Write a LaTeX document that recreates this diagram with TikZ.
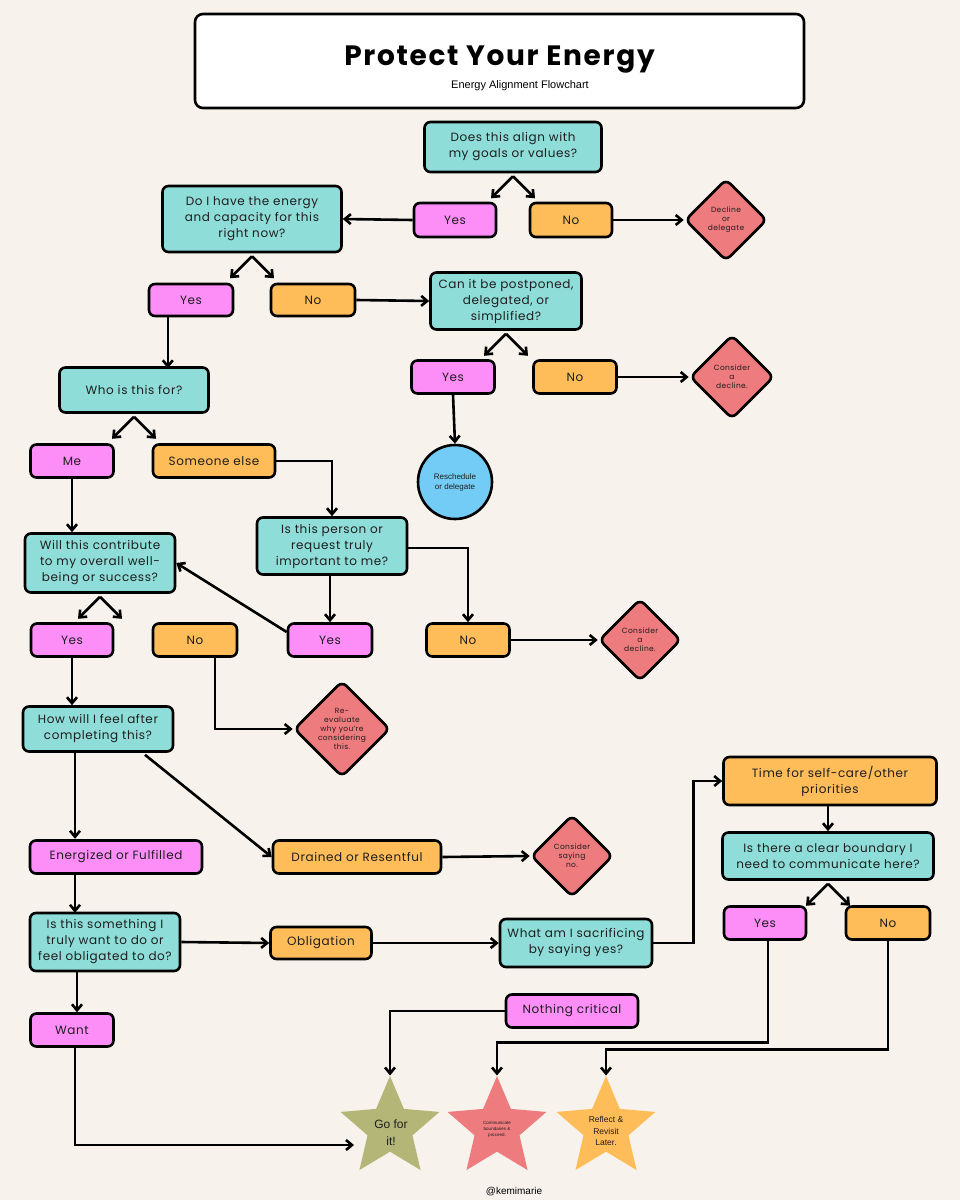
\documentclass[tikz,border=0pt]{standalone}
\usepackage{fontspec}
\setmainfont{Poppins}[LetterSpace=5]
\newfontfamily\titlef{Poppins}[LetterSpace=6]
\newfontfamily\arialf{Liberation Sans}
\usetikzlibrary{shapes.geometric,calc,arrows.meta}
\definecolor{bg}{HTML}{F7F3EC}
\definecolor{teal}{HTML}{8FDDD9}
\definecolor{pinkb}{HTML}{FD8EF8}
\definecolor{orangeb}{HTML}{FFBD59}
\definecolor{redd}{HTML}{EE7B7E}
\definecolor{blueb}{HTML}{72CCF5}
\definecolor{olive}{HTML}{B3B677}
\definecolor{ink}{HTML}{1E1E1E}
\tikzset{
 base/.style={draw=black,line width=2.6pt,rounded corners=6pt,align=center,text=ink,font=\fontsize{12}{16}\selectfont,inner sep=0pt},
 q/.style={base,fill=teal},
 yesb/.style={base,fill=pinkb},
 nob/.style={base,fill=orangeb},
 dia/.style={diamond,draw=black,line width=2.6pt,rounded corners=6pt,fill=redd,minimum size=#1,inner sep=0pt},
 dtext/.style={align=center,text=ink,font=\fontsize{7.5}{9}\selectfont},
 st/.style={star,star points=5,star point ratio=2.2,minimum size=104pt,inner sep=0pt,fill=#1},
 ar/.style={line width=2.6pt,-{Straight Barb[length=6pt,width=10pt,line width=2.6pt]}},
}
\begin{document}
\begin{tikzpicture}[x=1pt,y=-1pt]
\fill[bg] (0,0) rectangle (960,1200);
\useasboundingbox (0,0) rectangle (960,1200);
% title
\node[draw=black,line width=2.6pt,rounded corners=8pt,fill=white,minimum width=609pt,minimum height=94pt] (title) at (499.5,61) {};
\node[font=\titlef\fontsize{28}{32}\bfseries\selectfont,text=black] (tt) at (499.5,60) {Protect Your Energy};
\node[font=\arialf\fontsize{11}{13}\selectfont,text=black] (ts) at (520,86) {Energy Alignment Flowchart};
% nodes
\node[q,minimum width=177pt,minimum height=50pt] (q1) at (513,147) {Does this align with\\my goals or values?};
\node[yesb,minimum width=82pt,minimum height=34pt] (y1) at (455,220) {Yes};
\node[nob,minimum width=82pt,minimum height=34pt] (n1) at (571,220) {No};
\node[dia=82pt] (d1) at (726,220) {};
\node[dtext] at (d1) {Decline\\or\\delegate};
\node[q,minimum width=179pt,minimum height=66pt] (q2) at (252,219) {Do I have the energy\\and capacity for this\\right now?};
\node[yesb,minimum width=84pt,minimum height=32pt] (y2) at (191,300) {Yes};
\node[nob,minimum width=84pt,minimum height=32pt] (n2) at (313,300) {No};
\node[q,minimum width=151pt,minimum height=57pt] (q3) at (506,301) {Can it be postponed,\\delegated, or\\simplified?};
\node[yesb,minimum width=83pt,minimum height=33pt] (y3) at (453,377) {Yes};
\node[nob,minimum width=83pt,minimum height=33pt] (n3) at (575,377) {No};
\node[dia=84pt] (d2) at (732,377) {};
\node[dtext] at (d2) {Consider\\a\\decline.};
\node[circle,draw=black,line width=2.6pt,fill=blueb,minimum size=74pt,inner sep=0pt] (c1) at (455,482) {};
\node[dtext,font=\arialf\fontsize{8}{10}\selectfont] at (c1) {Reschedule\\or delegate};
\node[q,minimum width=149pt,minimum height=45pt] (q4) at (134,390) {Who is this for?};
\node[yesb,minimum width=83pt,minimum height=33pt] (me) at (72,461) {Me};
\node[nob,minimum width=122pt,minimum height=33pt] (se) at (214,461) {Someone else};
\node[q,minimum width=150pt,minimum height=59pt] (q5) at (100,563) {Will this contribute\\to my overall well-\\being or success?};
\node[q,minimum width=150pt,minimum height=57pt] (q6) at (332,546) {Is this person or\\request truly\\important to me?};
\node[yesb,minimum width=82pt,minimum height=33pt] (y4) at (72,640) {Yes};
\node[nob,minimum width=84pt,minimum height=33pt] (n4) at (195,640) {No};
\node[yesb,minimum width=84pt,minimum height=33pt] (y5) at (330,640) {Yes};
\node[nob,minimum width=83pt,minimum height=33pt] (n5) at (468,640) {No};
\node[dia=82pt] (d3) at (640,640) {};
\node[dtext] at (d3) {Consider\\a\\decline.};
\node[dia=96pt] (d4) at (342,729) {};
\node[dtext] at (d4) {Re-\\evaluate\\why you're\\considering\\this.};
\node[q,minimum width=150pt,minimum height=45pt] (q7) at (98,729) {How will I feel after\\completing this?};
\node[yesb,minimum width=172pt,minimum height=33pt] (ef) at (116,857) {Energized or Fulfilled};
\node[nob,minimum width=168pt,minimum height=33pt] (dr) at (357,857) {Drained or Resentful};
\node[dia=82pt] (d5) at (572,856) {};
\node[dtext] at (d5) {Consider\\saying\\no.};
\node[q,minimum width=150pt,minimum height=58pt] (q8) at (105,942) {Is this something I\\truly want to do or\\feel obligated to do?};
\node[nob,minimum width=101pt,minimum height=32pt] (ob) at (321,943) {Obligation};
\node[q,minimum width=152pt,minimum height=48pt] (q9) at (576,943) {What am I sacrificing\\by saying yes?};
\node[yesb,minimum width=132pt,minimum height=33pt] (nc) at (572,1011) {Nothing critical};
\node[yesb,minimum width=83pt,minimum height=33pt] (want) at (72,1030) {Want};
\node[nob,minimum width=213pt,minimum height=48pt] (tsc) at (830,781) {Time for self-care/other\\priorities};
\node[q,minimum width=211pt,minimum height=47pt] (q10) at (828,856) {Is there a clear boundary I\\need to communicate here?};
\node[yesb,minimum width=82pt,minimum height=33pt] (y6) at (765,923) {Yes};
\node[nob,minimum width=84pt,minimum height=33pt] (n6) at (888,923) {No};
% stars
\node[st=olive] (s1) at (390,1128) {};
\node[font=\arialf\fontsize{12}{17}\selectfont,align=center,text=ink] at (391,1133) {Go for\\it!};
\node[st=redd] (s2) at (497,1128) {};
\node[font=\arialf\fontsize{4.5}{6}\selectfont,align=center,text=ink] at (497,1129) {Communicate\\boundaries \&\\proceed.};
\node[st=orangeb] (s3) at (606,1128) {};
\node[font=\arialf\fontsize{8.5}{11.5}\selectfont,align=center,text=ink] at (606,1131) {Reflect \&\\Revisit\\Later.};
\node[font=\arialf\fontsize{10}{12}\selectfont,text=black] (km) at (514,1192) {@kemimarie};
\coordinate (s1in) at (354,1145);
% connectors
\foreach \n in {q1,q2,q3,q4,q5,q10}{
 \draw[ar] ($(\n.south)+(0,3)$) -- ++(-22,22);
 \draw[ar] ($(\n.south)+(0,3)$) -- ++(22,22);
}
\draw[ar] (y1.west) -- (q2.east);
\draw[ar] (n1.east) -- (d1.west);
\draw[ar] (n2.east) -- (q3.west);
\draw[ar] (n3.east) -- (d2.west);
\draw[ar] (y3.south) -- (c1.north);
\draw[ar] (y2.south -| q4.north east) ++(-42,0) -- ++(0,51);
\draw[ar] (me.south) -- (q5.north -| me.south);
\draw[ar] (se.east) -| (q6.north);
\draw[ar] (q6.south -| y5.north) -- (y5.north);
\draw[ar] (q6.east) ++(0,2) -| (n5.north);
\draw[ar] (y5.west) ++(0,-8) -- (q5.east);
\draw[ar] (n5.east) -- (d3.west);
\draw[ar] (n4.south) ++(20,0) |- (d4.west);
\draw[ar] (y4.south) -- (q7.north -| y4.south);
\draw[ar] (q7.south) ++(-23,0) -- ++(0,86);
\draw[ar] (q7.south) ++(47,2) -- (dr.west);
\draw[ar] (dr.east) -- (d5.west);
\draw[ar] (ef.south) ++(-41,0) -- ++(0,38);
\draw[ar] (q8.east) -- (ob.west);
\draw[ar] (ob.east) -- (q9.west);
\draw[ar] (q9.east) -- ++(40,0) |- (tsc.west);
\draw[ar] (tsc.south) ++(-2,0) -- (q10.north);
\draw[ar] (q8.south) ++(-28,0) -- ++(0,40);
\draw[ar] (want.south) ++(3,0) |- (s1in);
\draw[ar] (nc.west) -| (s1.north);
\draw[ar] (y6.south) ++(3,0) |- ($(s2.north)+(0,-33)$) -- (s2.north);
\draw[ar] (n6.south) |- ($(s3.north)+(0,-26)$) -- (s3.north);
\end{tikzpicture}
\end{document}
